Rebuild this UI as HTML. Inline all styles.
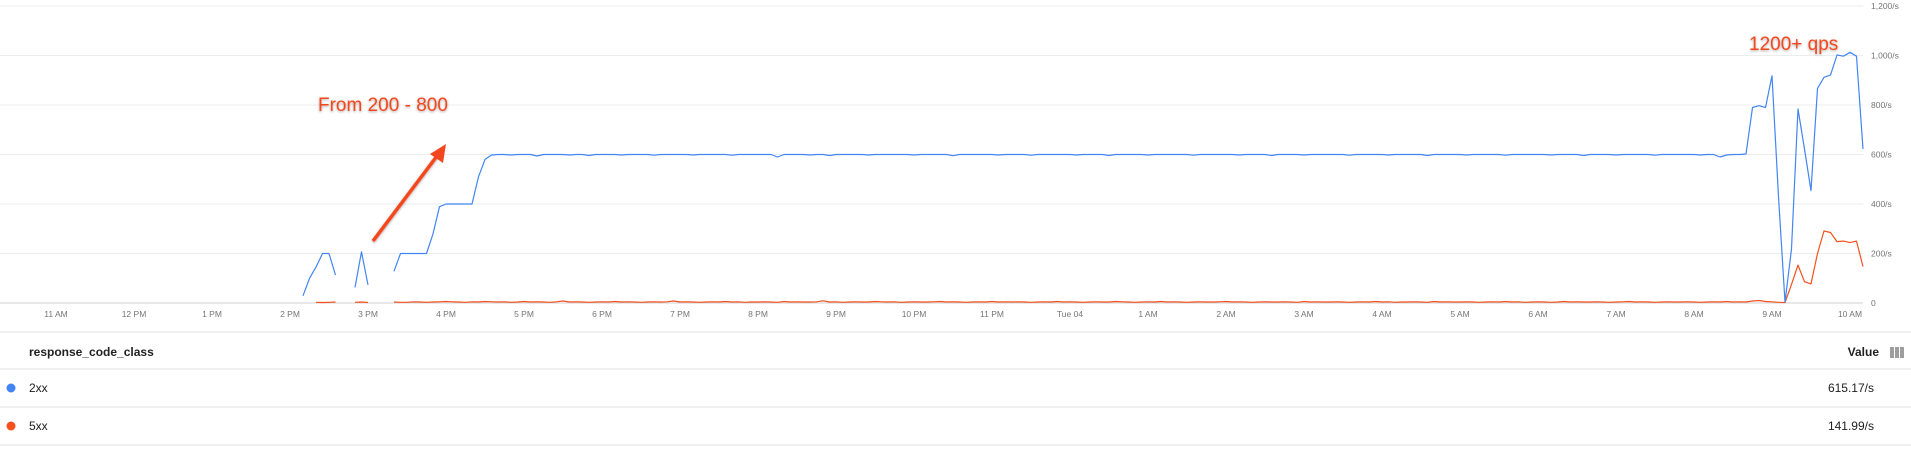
<!DOCTYPE html>
<html><head><meta charset="utf-8"><style>
html,body{margin:0;padding:0;background:#fff;width:1911px;height:456px;overflow:hidden;font-family:"Liberation Sans",Arial,sans-serif}
svg{position:absolute;left:0;top:0}
</style></head><body>
<svg id="chart" width="1911" height="456">
  <g id="grid"></g>
  <g id="xlabels"></g>
  <g id="ylabels"></g>
  <g id="series"></g>
  <defs><filter id="sh" x="-10%" y="-30%" width="120%" height="160%"><feDropShadow dx="0" dy="1" stdDeviation="1.2" flood-color="#000" flood-opacity="0.35"/></filter></defs>
  <text x="318" y="111" font-size="19" fill="#f4461e" filter="url(#sh)">From 200 - 800</text>
  <line x1="373" y1="241" x2="440" y2="152" stroke="#f4461e" stroke-width="3.5" filter="url(#sh)"/>
  <polygon points="446,144 430,154 443,163" fill="#f4461e"/>
  <text x="1749" y="50" font-size="19" fill="#f4461e" filter="url(#sh)">1200+ qps</text>
  <g>
    <line x1="0" y1="332" x2="1911" y2="332" stroke="#e0e0e0"/>
    <text x="29" y="356" font-size="12" font-weight="bold" fill="#212121">response_code_class</text>
    <text x="1879" y="356" font-size="12" font-weight="bold" fill="#212121" text-anchor="end">Value</text>
    <g fill="#9e9e9e"><rect x="1890" y="347" width="4" height="11"/><rect x="1895" y="347" width="4" height="11"/><rect x="1900" y="347" width="4" height="11"/></g>
    <line x1="0" y1="369" x2="1911" y2="369" stroke="#e0e0e0"/>
    <g><circle cx="11" cy="388" r="4.5" fill="#4285f4"/><text x="29" y="392" font-size="12" fill="#212121">2xx</text><text x="1874" y="392" font-size="12" fill="#212121" text-anchor="end">615.17/s</text></g>
    <line x1="0" y1="407" x2="1911" y2="407" stroke="#e0e0e0"/>
    <g><circle cx="11" cy="426" r="4.5" fill="#f4511e"/><text x="29" y="430" font-size="12" fill="#212121">5xx</text><text x="1874" y="430" font-size="12" fill="#212121" text-anchor="end">141.99/s</text></g>
    <line x1="0" y1="445" x2="1911" y2="445" stroke="#e0e0e0"/>
  </g>
</svg>
<script>
const xTickLabels=["11 AM","12 PM","1 PM","2 PM","3 PM","4 PM","5 PM","6 PM","7 PM","8 PM","9 PM","10 PM","11 PM","Tue 04","1 AM","2 AM","3 AM","4 AM","5 AM","6 AM","7 AM","8 AM","9 AM","10 AM"];
const yTickValues=[0,200,400,600,800,1000,1200];
const yTickLabels=["0","200/s","400/s","600/s","800/s","1,000/s","1,200/s"];
const startMinute=185; // minutes after 11 AM of first sample
const stepMinutes=5;
const series2xx=[null,29,100,145,200,200,113,null,null,63,207,73,null,null,null,128,200,200,200,200,200,279,389,400,400,400,400,400,510,580,598,
600,600,598,600,600,600,594,600,600,600,600,598,600,600,596,600,600,600,600,598,
600,600,600,600,597,600,600,600,600,600,598,600,600,600,600,600,597,600,600,600,
600,600,600,590,600,600,600,600,598,600,600,596,600,600,600,600,600,598,600,600,
600,600,600,600,598,600,600,600,600,600,595,600,600,600,600,600,600,598,600,600,
600,600,597,600,600,600,600,600,600,598,600,600,600,600,596,600,600,600,600,600,
598,600,600,600,600,600,600,597,600,600,600,600,600,600,598,600,600,600,600,596,
600,600,600,600,598,600,600,600,600,600,600,597,600,600,600,600,600,598,600,600,
600,600,600,596,600,600,600,600,600,598,600,600,600,600,600,597,600,600,600,600,
600,600,598,600,600,600,600,596,600,600,600,600,598,600,600,600,600,600,597,600,
600,600,600,
600,600,598,600,600,590,598,600,600,602,
790,797,790,918,430,4,218,784,622,454,867,912,921,1002,997,1013,997,622];
const series5xx=[null,null,null,3,2,3,4,null,null,3,4,2,null,null,null,4,3,3,5,4,3,4,5,6,5,4,3,5,4,6,5,
4,5,3,4,6,4,5,4,3,5,8,4,5,4,3,4,5,4,6,4,
5,4,3,4,5,4,5,8,4,5,4,3,4,5,4,6,4,5,3,4,
4,5,4,3,6,4,5,4,4,5,9,4,5,3,4,5,4,4,6,5,
4,5,3,4,5,4,4,5,6,4,5,4,3,4,5,4,6,4,5,4,
5,4,3,4,5,4,6,4,5,4,3,4,5,4,4,6,5,4,3,4,
5,4,6,4,5,4,3,4,5,4,4,5,6,4,5,4,3,4,5,4,
4,5,4,3,6,4,5,4,4,5,4,3,4,5,4,6,4,5,3,4,
4,5,4,3,6,4,5,4,4,5,4,3,4,5,4,6,4,5,3,4,
5,4,3,4,6,4,5,4,4,5,4,3,4,5,6,4,5,4,3,4,
5,4,4,
5,4,3,4,5,4,6,4,5,4,
8,10,6,5,3,2,75,153,86,77,200,291,285,248,250,244,250,147];
const NS="http://www.w3.org/2000/svg";
function xScale(min){return 56+78*(min/60);}
function yScale(v){return 303-v*(297/1200);}
function mk(tag,attrs,parent){const e=document.createElementNS(NS,tag);for(const k in attrs)e.setAttribute(k,attrs[k]);parent.appendChild(e);return e;}
const grid=document.getElementById('grid'),yl=document.getElementById('ylabels'),xl=document.getElementById('xlabels'),sg=document.getElementById('series');
yTickValues.forEach((v,i)=>{
  const y=yScale(v);
  const ln=mk('line',{x1:0,x2:1863,y1:y,y2:y,stroke:i===0?'#d0d0d0':'#ececec','stroke-width':1},grid);
  
  
  const t=mk('text',{x:1871,y:y+3,'font-size':8.5,fill:'#757575'},yl);
  t.textContent=yTickLabels[i];
  
  
});
xTickLabels.forEach((s,i)=>{
  const t=mk('text',{x:xScale(i*60),y:317,'font-size':8.5,fill:'#757575','text-anchor':'middle'},xl);
  t.textContent=s;
  
  
});
function draw(arr,color,name){
  let d='',pen=false;
  arr.forEach((v,i)=>{
    if(v===null){pen=false;return;}
    const x=xScale(startMinute+i*stepMinutes),y=yScale(v);
    d+=(pen?'L':'M')+x.toFixed(1)+' '+y.toFixed(1);pen=true;
  });
  const p=mk('path',{d:d,fill:'none',stroke:color,'stroke-width':1.2,'stroke-linejoin':'round'},sg);
  
  
}
draw(series5xx,'#f4511e','line-5xx');
draw(series2xx,'#4285f4','line-2xx');
</script>
</body></html>
